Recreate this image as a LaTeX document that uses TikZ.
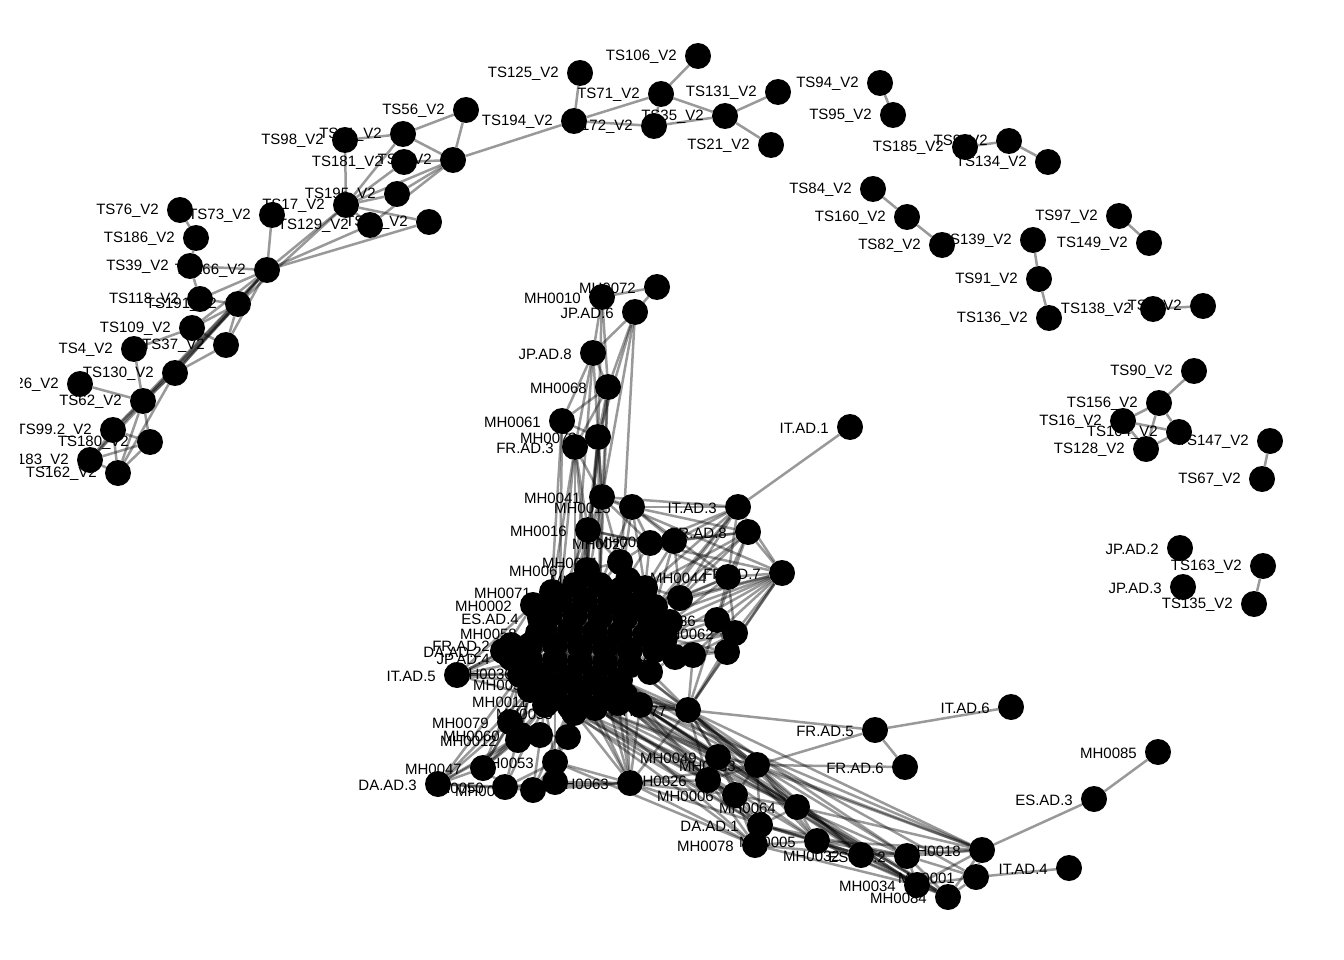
\documentclass[tikz,border=0pt]{standalone}
\usepackage{fontspec}
\setmainfont{Liberation Sans}
\def\verts{t76/180/210/TS76\_V2, t186/196/238/TS186\_V2, t39/190/266/TS39\_V2, t166/267/270/TS166\_V2,
t73/272/215/TS73\_V2, t118/200/299/TS118\_V2, t191/238/304/TS191\_V2, t109/192/328/TS109\_V2,
t4/134/349/TS4\_V2, t37/226/345/TS37\_V2, t130/175/373/TS130\_V2, t26/80/384/TS26\_V2,
t62/143/401/TS62\_V2, t99/113/430/TS99.2\_V2, t180/150/442/TS180\_V2, t183/90/460/TS183\_V2,
t162/118/473/TS162\_V2, t98/345/140/TS98\_V2, t41/403/134/TS41\_V2, t56/466/110/TS56\_V2,
t181/404/162/TS181\_V2, t5/453/160/TS5\_V2, t195/397/194/TS195\_V2, t17/346/205/TS17\_V2,
t129/370/225/TS129\_V2, t18/429/222/TS18\_V2, t194/574/121/TS194\_V2, t125/580/73/TS125\_V2,
t71/661/94/TS71\_V2, t106/698/56/TS106\_V2, t172/654/126/TS172\_V2, t35/725/116/TS35\_V2,
t131/778/92/TS131\_V2, t21/771/145/TS21\_V2,
t94/880/83/TS94\_V2, t95/893/115/TS95\_V2, t185/965/147/TS185\_V2, t9/1009/141/TS9\_V2,
t134/1048/162/TS134\_V2, t84/873/189/TS84\_V2, t160/907/217/TS160\_V2, t82/942/245/TS82\_V2,
t139/1033/240/TS139\_V2, t97/1119/216/TS97\_V2, t149/1149/243/TS149\_V2, t91/1039/279/TS91\_V2,
t136/1049/318/TS136\_V2, t138/1153/309/TS138\_V2, t3/1203/306/TS3\_V2,
t90/1194/371/TS90\_V2, t156/1159/403/TS156\_V2, t16/1123/421/TS16\_V2, t104/1179/432/TS104\_V2,
t128/1146/449/TS128\_V2, t147/1270/441/TS147\_V2, t67/1262/479/TS67\_V2,
jp2/1180/548/JP.AD.2, jp3/1183/587/JP.AD.3, t163/1263/566/TS163\_V2, t135/1254/604/TS135\_V2,
m72/657/287/MH0072, m10/602/297/MH0010, jp6/635/312/JP.AD.6, jp8/593/353/JP.AD.8,
m68/608/387/MH0068, m61/562/421/MH0061, m73/598/437/MH0073, fr3/575/447/FR.AD.3,
m41/602/497/MH0041, m15/632/507/MH0015, ita3/738/507/IT.AD.3, ita1/850/427/IT.AD.1,
m16/588/530/MH0016, fr8/748/532/FR.AD.8, m27/650/543/MH0027, m20/674/541/MH0020,
fr7/782/573/FR.AD.7, m44/728/577/MH0044, m30/680/598/MH0030, m67/587/570/MH0067,
m21/620/562/MH0021, m69/628/580/MH0069, m71/552/592/MH0071, m02/533/605/MH0002,
es4/540/618/ES.AD.4, m58/538/633/MH0058, fr2/511/645/FR.AD.2, da2/503/651/DA.AD.2,
jp4/511/658/JP.AD.4, ita5/457/675/IT.AD.5, m36/534/673/MH0036, m59/551/684/MH0059,
m11/549/701/MH0011, m55/574/713/MH0055, m86/717/620/MH0086, m62/735/633/MH0062,
m40/693/655/MH0040, m77/688/710/MH0077, m03/640/705/MH0003, m79/510/722/MH0079,
m60/521/735/MH0060, m12/518/740/MH0012, m47/483/768/MH0047, da3/438/784/DA.AD.3,
m53/555/762/MH0053, m50/505/787/MH0050, m52/533/790/MH0052, m63/630/783/MH0063,
m26/708/780/MH0026, m49/718/757/MH0049, m83/757/765/MH0083, m06/735/795/MH0006,
m64/797/807/MH0064, da1/760/825/DA.AD.1, m78/755/845/MH0078, m05/817/841/MH0005,
m32/861/855/MH0032, es2/907/856/ES.AD.2, m18/982/850/MH0018, m01/976/877/MH0001,
m34/917/885/MH0034, m84/948/897/MH0084, ita4/1069/868/IT.AD.4, es3/1094/799/ES.AD.3,
m85/1158/752/MH0085, fr5/875/730/FR.AD.5, ita6/1011/707/IT.AD.6, fr6/905/767/FR.AD.6}
\def\blobs{x1/727/652, x2/675/657, x3/650/672, x4/618/703, x6/540/735, x7/568/737, x8/555/782,
b1/575/585, b2/600/585, b3/620/590, b4/645/588, b5/560/600, b6/585/600, b7/610/602, b8/635/605,
b9/655/607, b10/550/615, b11/575/615, b12/600/617, b13/625/618, b14/650/620, b15/670/622,
b16/545/630, b17/570/630, b18/595/632, b19/620/633, b20/645/635, b21/665/638, b22/530/645,
b23/555/645, b24/580/647, b25/605/648, b26/630/650, b27/655/650, b28/530/660, b29/555/660,
b30/580/662, b31/605/663, b32/630/665, b33/520/675, b34/545/675, b35/570/677, b36/595/678,
b37/620/680, b38/530/690, b39/555/690, b40/580/692, b41/605/693, b42/625/695, b43/545/705,
b44/570/707, b45/595/708}
\def\edges{t76/t186, t186/t39, t39/t166, t39/t118, t73/t166, t118/t191, t118/t166, t191/t166,
t109/t166, t37/t166, t37/t191, t109/t191, t109/t37, t4/t109, t4/t62, t130/t37, t130/t166,
t130/t191, t26/t62, t62/t166, t62/t191, t62/t130, t62/t99, t62/t180, t62/t183, t62/t162,
t130/t162, t99/t183, t99/t162, t180/t183, t180/t162, t183/t162, t183/t191, t99/t166, t99/t180,
t166/t17, t166/t129, t166/t18, t191/t17, t98/t17, t98/t41, t41/t56, t41/t5, t56/t5, t5/t194,
t17/t41, t17/t5, t17/t195, t17/t18, t17/t129, t129/t5, t195/t5, t181/t5, t181/t17, t125/t194,
t194/t71, t194/t172, t71/t106, t71/t35, t172/t35, t35/t131, t35/t21, t71/t172,
t94/t95, t185/t9, t9/t134, t84/t160, t160/t82, t139/t91, t91/t136, t97/t149, t138/t3,
t90/t156, t156/t16, t156/t104, t156/t128, t16/t104, t16/t128, t128/t104, t147/t67, t163/t135,
m72/m10, m72/jp6, m10/jp8, m10/m68, m10/m73, jp6/jp8, jp6/m68, jp6/m73, jp6/m41, jp8/m68,
jp8/m61, jp8/fr3, jp8/m41, m68/m61, m68/m73, m68/fr3, m68/m41, m68/m16, m61/m73, m61/fr3,
m73/m41, m73/m16, m73/m67, fr3/m41, fr3/m16, fr3/m67, fr3/m71, m41/m15, m41/m16, m41/m27,
m41/m21, m15/m27, m15/m20, m15/m44, ita1/ita3, ita3/m15, ita3/m27, ita3/m20, ita3/m44,
ita3/fr7, ita3/m30, ita3/m41, fr8/m20, fr8/fr7, fr8/m44, fr8/m27, fr8/m15, fr8/m30, fr8/m86,
fr7/m44, fr7/m86, fr7/m62, fr7/x1, fr7/m41, fr7/m16, fr7/m30, fr7/m40, m44/m30, m44/m86,
m44/m62, m44/m27, m86/m62, m86/x1, m62/x1, m62/m40, x1/m40, m40/x2, x2/x3, m16/m27, m16/m67,
m16/m21, m27/m20, m27/m21, m20/m30, m67/m21, m21/m69, m69/m30,
ita5/da2, ita5/m02, ita5/m11, ita5/m36, da2/m02, ita5/m59,
m77/fr5, m77/m83, m77/m49, m77/m26, m77/m64, m77/m05, m77/da1, m77/m32, m77/es2, m77/m18,
m77/m03, m77/x4, m77/x3, m77/m40, m77/x1, m77/m62, m77/m86, m77/fr7,
m83/fr5, m83/fr6, m83/m49, m83/m26, m83/m06, m83/m64, m83/da1, m83/m05, m83/m32, m83/es2,
m83/m18, fr5/ita6, fr5/fr6, m64/m05, m64/m32, m64/es2, m64/m18, m64/m34, m64/da1, m64/m06,
m64/m84, m05/m32, m05/es2, m05/m34, m05/m84, m05/m18, m05/da1, m05/m78, da1/m78, da1/m32,
da1/es2, m78/m32, m78/m34, m32/es2, m32/m18, m32/m34, m32/m84, es2/m18, es2/m01, es2/m34,
es2/m84, m34/m84, m34/m01, m34/m18, m84/m01, m84/m18, m01/m18, m01/ita4, m18/es3, es3/m85,
m26/m06, m26/m63, m26/m49, m26/m78, m26/da1, m49/m06, m06/m78, m06/da1,
m63/m53, m63/m52, m63/m50, m63/x4, m63/m03, m63/m77, m63/m83, m63/m06, m63/m78,
m53/m50, m53/m52, m47/m50, m47/da3, da3/m50, da3/m52, da3/m60, da3/m12, da3/m79, m47/m79,
m47/m60, m47/m12, m79/m60, m79/m12, m60/m12, m60/x6, m12/x6, x6/x7, x7/m53, x8/m53, x8/m52,
x8/m63, x8/m50, m79/m11, m53/m55, x7/m55, m03/m18, x4/m34, m03/m84, m55/m78, m11/da1,
m53/m78, m03/m64, x4/m05, m55/m06, m63/m32,
ita3/b4, ita3/b9, ita3/b14, fr7/b9, fr7/b15, fr7/b21, fr7/b14, fr8/b4, fr8/b9, m44/b15,
m44/b9, m86/b21, m86/b15, m62/b21, m62/b27, x1/b27, x1/b21, m40/b27, m40/b32, x2/b32, x2/b27,
x3/b37, x3/b32, m77/b37, m77/b42, m77/b41, m77/b32, m77/b45, m77/b36, m03/b42, m03/b45,
x4/b41, x4/b45, x4/b44, m63/b45, m63/b44, m63/b40, m63/b42, m63/b41, m26/b42, m26/b45,
m26/b37, m83/b37, m83/b42, m83/b32, m49/b41, m49/b45, m06/b45, m06/b44, m64/b45, m64/b42,
m05/b45, m32/b42, da1/b44, m53/b43, m53/b44, m53/b39, m50/b43, m50/b38, m52/b44, m52/b43,
m47/b38, m47/b33, m47/b43, da3/b33, da3/b38, m79/b33, m79/b38, m60/b43, m60/b38, m12/b38,
ita5/b22, ita5/b28, ita5/b33, ita5/b16, m41/b1, m41/b2, m41/b6, m16/b1, m16/b5, m16/b6,
m67/b5, m67/b1, m21/b2, m21/b3, m69/b7, m69/b3, m30/b9, m30/b15, m30/b8, m27/b4, m27/b3,
m20/b4, m20/b9, m15/b2, m15/b3, m15/b4, fr3/b1, fr3/b5, m73/b2, m73/b6, m61/b5, m61/b10,
jp8/b1, m68/b2, jp6/b3, m71/b5, m71/b10, m02/b10, m02/b16, es4/b16, es4/b11, m58/b22,
m58/b17, fr2/b22, fr2/b28, da2/b22, da2/b28, jp4/b28, jp4/b33, m36/b33, m36/b34, m59/b38,
m59/b39, m11/b43, m11/b39, m55/b44, m55/b43, b45/m18, b42/m34, b41/m84, b37/m01, b40/m78,
b44/m64, b36/da1}
\begin{document}
\begin{tikzpicture}[x=1pt,y=-1pt,
  vshape/.style={circle, minimum size=26pt, inner sep=0pt},
  e/.style={draw=black, draw opacity=0.4, line width=2.5pt},
  lab/.style={anchor=east, inner sep=0pt, text=black, font=\fontsize{15}{18}\selectfont}]
\useasboundingbox (0,0) rectangle (1344,960);
\begin{scope}
\clip (20,0) rectangle (1344,960);
\foreach \n/\x/\y/\t in \verts {\node[vshape] (\n) at (\x,\y) {};}
\foreach \n/\x/\y in \blobs {\node[vshape] (\n) at (\x,\y) {};}
\foreach \a/\b in \edges {\draw[e] (\a) -- (\b);}
\foreach \i in {1,...,45} {
  \pgfmathtruncatemacro\ja{mod(\i*7,45)+1}
  \pgfmathtruncatemacro\jb{mod(\i*13,45)+1}
  \pgfmathtruncatemacro\jc{mod(\i*19+3,45)+1}
  \draw[e] (b\i) -- (b\ja);
  \draw[e] (b\i) -- (b\jb);
  \draw[e] (b\i) -- (b\jc);
}
\foreach \n/\x/\y/\t in \verts {\node[lab] (\n-l) at ([xshift=-21pt,yshift=-1pt]\n.center) {\t};}
\foreach \n/\x/\y/\t in \verts {\fill[black] (\n.center) circle (13pt);}
\foreach \n/\x/\y in \blobs {\fill[black] (\n.center) circle (13pt);}
\end{scope}
\end{tikzpicture}
\end{document}
